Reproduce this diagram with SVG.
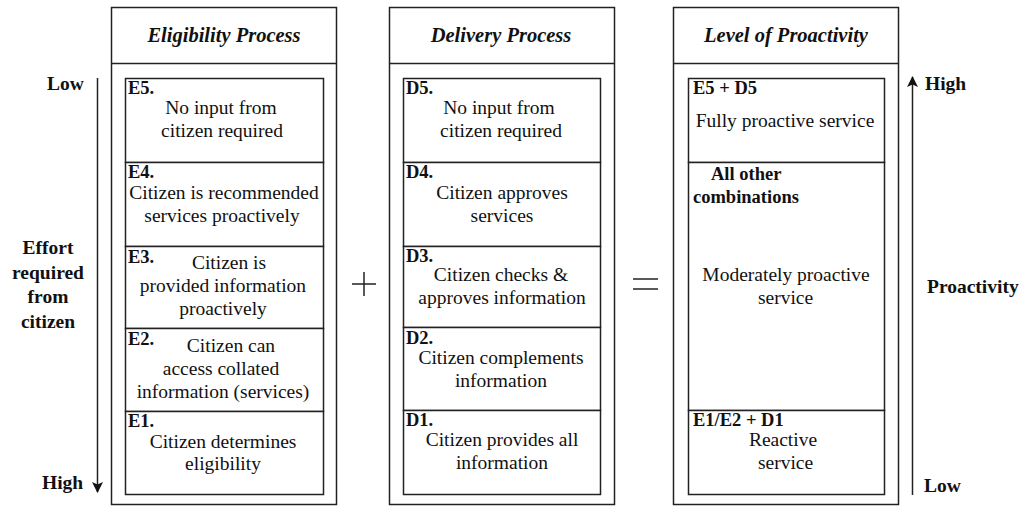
<svg xmlns="http://www.w3.org/2000/svg" width="1029" height="506" viewBox="0 0 1029 506">
<defs>
<style>
.box{fill:#fff;stroke:#222;stroke-width:1.5}
.ln{stroke:#222;stroke-width:1.5;fill:none}
.t{font-family:"Liberation Serif","Times New Roman",serif;font-size:19.5px;fill:#111;text-anchor:middle}
.lb{font-family:"Liberation Serif","Times New Roman",serif;font-size:18.5px;font-weight:bold;fill:#111}
.h{font-family:"Liberation Serif","Times New Roman",serif;font-size:20.5px;font-weight:bold;font-style:italic;fill:#111;text-anchor:middle}
.ax{font-family:"Liberation Serif","Times New Roman",serif;font-size:19.5px;font-weight:bold;fill:#111}
</style>
<marker id="ah" viewBox="0 0 11 12" refX="10" refY="6" markerWidth="11" markerHeight="12" markerUnits="userSpaceOnUse" orient="auto">
<path d="M0,0.5 L11,6 L0,11.5 L2.5,6 z" fill="#111"/>
</marker>
</defs>

<g id="eligibility">
<rect class="box" x="111.5" y="7.5" width="225" height="497"/>
<line class="ln" x1="111.5" y1="63.5" x2="336.5" y2="63.5"/>
<text class="h" x="224" y="42">Eligibility Process</text>
<g id="E5"><rect class="box" x="125.5" y="78.5" width="198" height="84"/>
<text class="lb" x="128" y="94">E5.</text>
<text class="t" x="221" y="114">No input from</text><text class="t" x="222" y="137">citizen required</text></g>
<g id="E4"><rect class="box" x="125.5" y="162.5" width="198" height="84"/>
<text class="lb" x="128" y="178">E4.</text>
<text class="t" x="224" y="199">Citizen is recommended</text><text class="t" x="222" y="222">services proactively</text></g>
<g id="E3"><rect class="box" x="125.5" y="246.5" width="198" height="82"/>
<text class="lb" x="128" y="263">E3.</text>
<text class="t" x="229" y="269">Citizen is</text><text class="t" x="223" y="292">provided information</text><text class="t" x="223" y="315">proactively</text></g>
<g id="E2"><rect class="box" x="125.5" y="328.5" width="198" height="83"/>
<text class="lb" x="128" y="345">E2.</text>
<text class="t" x="231" y="352">Citizen can</text><text class="t" x="221" y="375">access collated</text><text class="t" x="223" y="398">information (services)</text></g>
<g id="E1"><rect class="box" x="125.5" y="411.5" width="198" height="83"/>
<text class="lb" x="128" y="427">E1.</text>
<text class="t" x="223" y="448">Citizen determines</text><text class="t" x="223" y="470">eligibility</text></g>
</g>

<g id="delivery">
<rect class="box" x="389.5" y="7.5" width="225" height="497"/>
<line class="ln" x1="389.5" y1="63.5" x2="614.5" y2="63.5"/>
<text class="h" x="501" y="42">Delivery Process</text>
<g id="D5"><rect class="box" x="403.5" y="78.5" width="197" height="84"/>
<text class="lb" x="406" y="94">D5.</text>
<text class="t" x="499" y="114">No input from</text><text class="t" x="501" y="137">citizen required</text></g>
<g id="D4"><rect class="box" x="403.5" y="162.5" width="197" height="84"/>
<text class="lb" x="406" y="178">D4.</text>
<text class="t" x="502" y="199">Citizen approves</text><text class="t" x="502" y="222">services</text></g>
<g id="D3"><rect class="box" x="403.5" y="246.5" width="197" height="81"/>
<text class="lb" x="406" y="262">D3.</text>
<text class="t" x="501" y="281">Citizen checks &amp;</text><text class="t" x="502" y="304">approves information</text></g>
<g id="D2"><rect class="box" x="403.5" y="327.5" width="197" height="83"/>
<text class="lb" x="406" y="344">D2.</text>
<text class="t" x="501" y="364">Citizen complements</text><text class="t" x="501" y="387">information</text></g>
<g id="D1"><rect class="box" x="403.5" y="410.5" width="197" height="84"/>
<text class="lb" x="406" y="426">D1.</text>
<text class="t" x="502" y="446">Citizen provides all</text><text class="t" x="502" y="469">information</text></g>
</g>

<g id="proactivity">
<rect class="box" x="673.5" y="7.5" width="225" height="497"/>
<line class="ln" x1="673.5" y1="63.5" x2="898.5" y2="63.5"/>
<text class="h" x="786" y="42">Level of Proactivity</text>
<g id="P-full"><rect class="box" x="688.5" y="78.5" width="196" height="84"/>
<text class="lb" x="693" y="94">E5 + D5</text>
<text class="t" x="785" y="127">Fully proactive service</text></g>
<g id="P-moderate"><rect class="box" x="688.5" y="162.5" width="196" height="248"/>
<text class="lb" x="711" y="180">All other</text><text class="lb" x="693" y="203">combinations</text>
<text class="t" x="786" y="281">Moderately proactive</text><text class="t" x="785.5" y="304">service</text></g>
<g id="P-reactive"><rect class="box" x="688.5" y="410.5" width="196" height="84"/>
<text class="lb" x="693" y="426">E1/E2 + D1</text>
<text class="t" x="783" y="446">Reactive</text><text class="t" x="785.5" y="469">service</text></g>
</g>

<g id="operators">
<line class="ln" x1="352" y1="284" x2="376" y2="284"/>
<line class="ln" x1="364" y1="272" x2="364" y2="296"/>
<line class="ln" x1="633" y1="279" x2="658" y2="279"/>
<line class="ln" x1="633" y1="289" x2="658" y2="289"/>
</g>

<g id="connectors">
<line class="ln" x1="97.5" y1="78" x2="97.5" y2="492" marker-end="url(#ah)"/>
<line class="ln" x1="912.5" y1="495" x2="912.5" y2="77" marker-end="url(#ah)"/>
</g>

<g id="axis-labels">
<text class="ax" x="47" y="90">Low</text>
<text class="ax" x="42" y="489">High</text>
<text class="ax" x="48" y="254" text-anchor="middle">Effort</text>
<text class="ax" x="48" y="279" text-anchor="middle">required</text>
<text class="ax" x="48" y="303" text-anchor="middle">from</text>
<text class="ax" x="48" y="328" text-anchor="middle">citizen</text>
<text class="ax" x="925" y="90">High</text>
<text class="ax" x="927" y="293">Proactivity</text>
<text class="ax" x="924" y="492">Low</text>
</g>
</svg>
